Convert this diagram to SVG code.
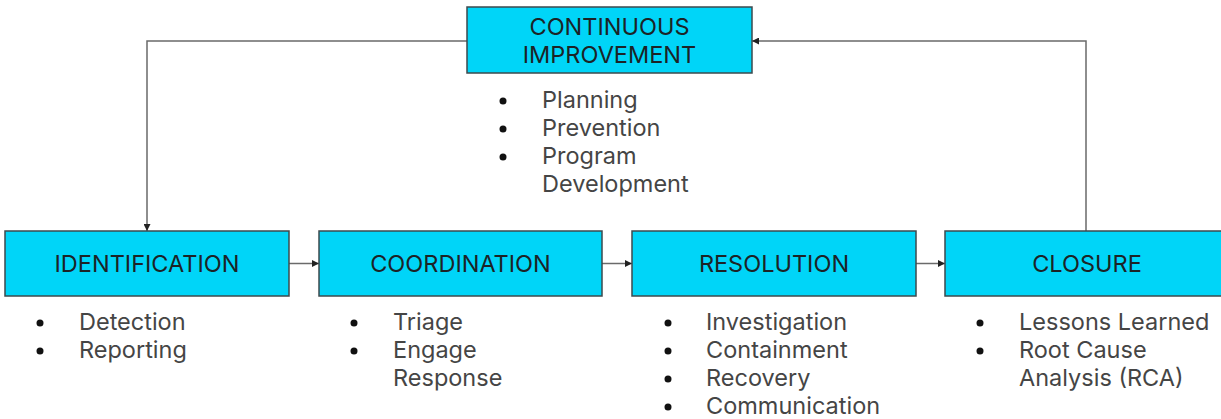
<svg xmlns="http://www.w3.org/2000/svg" width="1221" height="419" viewBox="0 0 1221 419">
  <defs>
    <marker id="arrow" viewBox="0 0 8 8" refX="8" refY="4" markerWidth="7" markerHeight="7" markerUnits="userSpaceOnUse" orient="auto">
      <path d="M0,0 L8,4 L0,8 Z" fill="#222"/>
    </marker>
    <style>
      .box { fill: #00d5f8; stroke: #3d4a4d; stroke-width: 1.5; }
      .title { font-family: Inter, "Liberation Sans", sans-serif; font-size: 23.5px; fill: #1c2326; text-anchor: middle; }
      .item { font-family: Inter, "Liberation Sans", sans-serif; font-size: 23.5px; fill: #454545; }
      .dot { fill: #111; }
      .link { fill: none; stroke: #6a6a6a; stroke-width: 1.5; marker-end: url(#arrow); }
    </style>
  </defs>

  <!-- connectors -->
  <g id="connectors">
    <path class="link" d="M467,41 H147 V231"/>
    <path class="link" d="M1086,231 V41 H752"/>
    <path class="link" d="M289,263.5 H319"/>
    <path class="link" d="M602,263.5 H632"/>
    <path class="link" d="M916,263.5 H945"/>
  </g>

  <!-- continuous improvement -->
  <g id="improvement">
    <rect class="box" x="467" y="7" width="285" height="66"/>
    <text class="title" x="609.5" y="35">CONTINUOUS</text>
    <text class="title" x="609.5" y="63">IMPROVEMENT</text>
    <circle class="dot" cx="503" cy="101" r="3.5"/>
    <circle class="dot" cx="503" cy="129" r="3.5"/>
    <circle class="dot" cx="503" cy="157" r="3.5"/>
    <text class="item" x="542" y="108">Planning</text>
    <text class="item" x="542" y="136">Prevention</text>
    <text class="item" x="542" y="164">Program</text>
    <text class="item" x="542" y="192">Development</text>
  </g>

  <!-- identification -->
  <g id="identification">
    <rect class="box" x="5" y="231" width="284" height="65"/>
    <text class="title" x="147" y="272">IDENTIFICATION</text>
    <circle class="dot" cx="40" cy="323" r="3.5"/>
    <circle class="dot" cx="40" cy="351" r="3.5"/>
    <text class="item" x="79" y="330">Detection</text>
    <text class="item" x="79" y="358">Reporting</text>
  </g>

  <!-- coordination -->
  <g id="coordination">
    <rect class="box" x="319" y="231" width="283" height="65"/>
    <text class="title" x="460.5" y="272">COORDINATION</text>
    <circle class="dot" cx="354" cy="323" r="3.5"/>
    <circle class="dot" cx="354" cy="351" r="3.5"/>
    <text class="item" x="393" y="330">Triage</text>
    <text class="item" x="393" y="358">Engage</text>
    <text class="item" x="393" y="386">Response</text>
  </g>

  <!-- resolution -->
  <g id="resolution">
    <rect class="box" x="632" y="231" width="284" height="65"/>
    <text class="title" x="774" y="272">RESOLUTION</text>
    <circle class="dot" cx="668" cy="323" r="3.5"/>
    <circle class="dot" cx="668" cy="351" r="3.5"/>
    <circle class="dot" cx="668" cy="379" r="3.5"/>
    <circle class="dot" cx="668" cy="407" r="3.5"/>
    <text class="item" x="706" y="330">Investigation</text>
    <text class="item" x="706" y="358">Containment</text>
    <text class="item" x="706" y="386">Recovery</text>
    <text class="item" x="706" y="414">Communication</text>
  </g>

  <!-- closure -->
  <g id="closure">
    <rect class="box" x="945" y="231" width="284" height="65"/>
    <text class="title" x="1087" y="272">CLOSURE</text>
    <circle class="dot" cx="980" cy="323" r="3.5"/>
    <circle class="dot" cx="980" cy="351" r="3.5"/>
    <text class="item" x="1019" y="330">Lessons Learned</text>
    <text class="item" x="1019" y="358">Root Cause</text>
    <text class="item" x="1019" y="386">Analysis (RCA)</text>
  </g>
</svg>
